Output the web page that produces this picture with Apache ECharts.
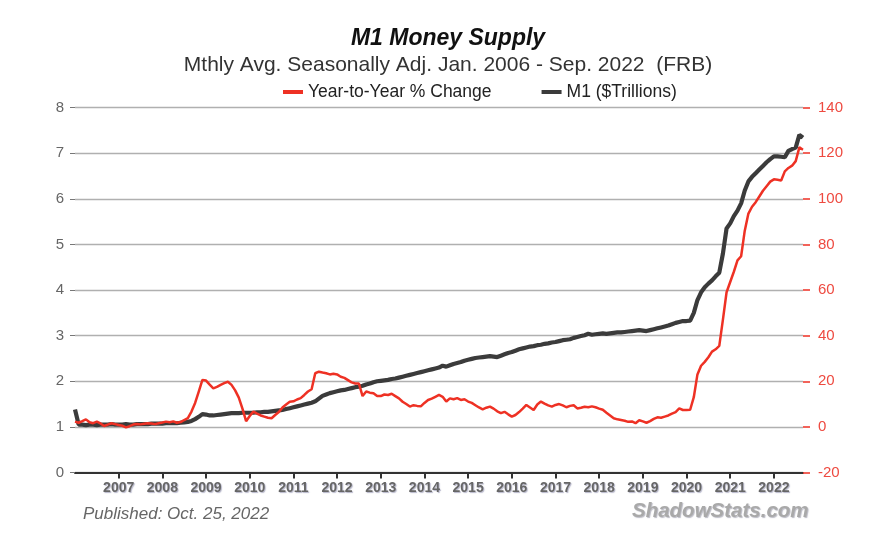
<!DOCTYPE html>
<html>
<head>
<meta charset="utf-8" />
<title>M1 Money Supply</title>
<script src="https://cdn.jsdelivr.net/npm/echarts@6/dist/echarts.min.js"></script>
<style>
  html, body { margin: 0; padding: 0; background: #fff; }
  #chart { width: 896px; height: 534px; }
</style>
</head>
<body>
<div id="chart"></div>
<script type="text/javascript">
// months Jan 2006 .. Sep 2022
var startYear = 2006;
var monthCount = 201;

// M1, $ trillions (left axis), one row per year
var m1 = [
  1.38, 1.05, 1.05, 1.04, 1.05, 1.05, 1.04, 1.05, 1.05, 1.05, 1.06, 1.05,
  1.05, 1.05, 1.06, 1.05, 1.05, 1.06, 1.06, 1.06, 1.06, 1.07, 1.07, 1.07,
  1.07, 1.08, 1.08, 1.08, 1.08, 1.09, 1.10, 1.11, 1.13, 1.17, 1.22, 1.28,
  1.27, 1.25, 1.25, 1.26, 1.27, 1.28, 1.29, 1.30, 1.30, 1.30, 1.31, 1.31,
  1.31, 1.31, 1.32, 1.32, 1.33, 1.33, 1.34, 1.35, 1.36, 1.37, 1.39, 1.41,
  1.43, 1.45, 1.47, 1.49, 1.51, 1.53, 1.56, 1.62, 1.68, 1.71, 1.74, 1.76,
  1.78, 1.80, 1.81, 1.83, 1.85, 1.87, 1.88, 1.90, 1.93, 1.95, 1.98, 2.00,
  2.01, 2.02, 2.03, 2.05, 2.06, 2.08, 2.10, 2.12, 2.14, 2.16, 2.18, 2.20,
  2.22, 2.24, 2.26, 2.28, 2.30, 2.34, 2.32, 2.35, 2.38, 2.40, 2.42, 2.45,
  2.47, 2.49, 2.51, 2.52, 2.53, 2.54, 2.55, 2.54, 2.53, 2.56, 2.59, 2.62,
  2.64, 2.67, 2.70, 2.72, 2.74, 2.76, 2.77, 2.79, 2.80, 2.82, 2.83, 2.85,
  2.86, 2.88, 2.90, 2.91, 2.92, 2.95, 2.97, 2.99, 3.01, 3.04, 3.02, 3.03,
  3.04, 3.05, 3.04, 3.05, 3.06, 3.07, 3.07, 3.08, 3.09, 3.10, 3.11, 3.12,
  3.11, 3.10, 3.12, 3.14, 3.16, 3.18, 3.20, 3.22, 3.25, 3.28, 3.30, 3.32,
  3.32, 3.33, 3.50, 3.78, 3.95, 4.06, 4.14, 4.21, 4.30, 4.38, 4.80, 5.35,
  5.46, 5.62, 5.74, 5.90, 6.18, 6.38, 6.48, 6.56, 6.64, 6.72, 6.80, 6.87,
  6.93, 6.93, 6.92, 6.91, 7.05, 7.09, 7.12, 7.40, 7.34
];

// year-to-year % change (right axis)
var yoy = [
  2.3, 1.8, 2.5, 3.3, 2.0, 1.6, 2.3, 1.5, 0.4, 1.0, 1.6, 1.2,
  0.8, 0.5, -0.2, 0.3, 1.0, 1.3, 1.1, 1.4, 1.6, 1.5, 1.2, 1.6,
  1.9, 2.3, 2.0, 2.4, 1.8, 2.1, 3.0, 3.8, 6.7, 10.5, 15.5, 20.6,
  20.3, 18.5, 16.9, 17.5, 18.4, 19.2, 19.8, 18.4, 16.0, 12.8, 8.0, 2.5,
  4.8, 6.7, 5.8, 5.0, 4.5, 4.0, 3.8, 5.2, 6.5, 8.5, 9.8, 11.0,
  11.2, 12.0, 12.6, 14.0, 15.5, 16.5, 23.5, 24.2, 23.8, 23.5, 23.0, 23.3,
  23.0, 22.0, 21.5, 20.5, 19.5, 19.0, 19.0, 13.5, 15.5, 15.0, 14.7, 13.5,
  13.5, 14.2, 14.0, 14.5, 13.5, 12.5, 11.0, 10.0, 8.9, 9.5, 9.2, 9.0,
  10.5, 11.8, 12.4, 13.2, 14.0, 13.2, 11.1, 12.5, 12.1, 12.6, 11.8, 12.1,
  11.1, 10.5, 9.5, 8.5, 7.7, 8.4, 8.9, 8.0, 6.8, 6.0, 6.6, 5.5,
  4.5, 5.2, 6.5, 8.0, 9.6, 8.5, 7.4, 9.8, 11.1, 10.2, 9.4, 8.9,
  9.6, 10.0, 9.4, 8.6, 9.2, 9.5, 8.1, 8.4, 8.8, 8.6, 9.0, 8.6,
  8.0, 7.5, 6.2, 5.0, 3.8, 3.3, 3.0, 2.7, 2.2, 2.4, 1.6, 2.9,
  2.4, 1.8, 2.5, 3.5, 4.2, 4.0, 4.5, 5.0, 5.8, 6.5, 8.1, 7.4,
  7.4, 7.5, 13.0, 23.0, 26.8, 28.5, 30.5, 33.0, 34.0, 35.5, 47.0, 59.0,
  63.5, 68.0, 73.0, 74.8, 86.0, 93.5, 96.5, 98.5, 101.0, 103.5, 105.5, 107.5,
  108.5, 108.3, 108.0, 112.0, 113.5, 114.5, 116.5, 122.5, 121.5
];

var months = [];
for (var i = 0; i < monthCount; i++) {
  var y = startYear + Math.floor(i / 12);
  var m = (i % 12) + 1;
  months.push(y + '-' + (m < 10 ? '0' + m : m));
}

var leftTicks = { min: 0, max: 8, interval: 1 };
var rightTicks = { min: -20, max: 140, interval: 20 };

var redColor = '#ee3124';
var blackColor = '#3b3b3b';

function isYearStart(index) {
  return index > 0 && index % 12 === 0;
}

var myChart = echarts.init(document.getElementById('chart'));
var option = {
  animation: false,
  backgroundColor: '#fff',
  title: [{
    text: 'M1 Money Supply',
    left: 'center',
    top: 22,
    textStyle: { fontFamily: 'Liberation Sans', fontSize: 23, fontWeight: 'bold', fontStyle: 'italic', color: '#111' }
  }, {
    text: 'Mthly Avg. Seasonally Adj. Jan. 2006 - Sep. 2022  (FRB)',
    left: 'center',
    top: 50,
    textStyle: { fontFamily: 'Liberation Sans', fontSize: 21, fontWeight: 'normal', color: '#333' }
  }, {
    text: 'Published: Oct. 25, 2022',
    left: 78,
    top: 501,
    textStyle: { fontFamily: 'Liberation Sans', fontSize: 17, fontWeight: 'normal', fontStyle: 'italic', color: '#666' }
  }, {
    text: 'ShadowStats.com',
    left: 627,
    top: 496,
    textStyle: { fontFamily: 'Liberation Sans', fontSize: 20.5, fontWeight: 'bold', fontStyle: 'italic', color: '#a9a9a9',
      textShadowColor: 'rgba(120,120,140,0.5)', textShadowBlur: 1, textShadowOffsetX: 1, textShadowOffsetY: 1 }
  }],
  legend: {
    left: 278,
    top: 78,
    itemGap: 50,
    itemWidth: 20,
    itemHeight: 4,
    icon: 'rect',
    textStyle: { fontFamily: 'Liberation Sans', fontSize: 17.5, color: '#222' },
    data: ['Year-to-Year % Change', 'M1 ($Trillions)']
  },
  grid: { left: 75, right: 93, top: 107.5, bottom: 61.5, containLabel: false },
  xAxis: [{
    type: 'category',
    boundaryGap: false,
    data: months,
    axisLine: { show: true, lineStyle: { color: '#333', width: 2 } },
    axisTick: { show: true, length: 6, interval: isYearStart, lineStyle: { color: '#333', width: 2 } },
    axisLabel: {
      interval: isYearStart,
      margin: 9,
      fontFamily: 'Liberation Sans',
      fontSize: 14,
      fontWeight: 'bold',
      color: '#666',
      textShadowColor: 'rgba(110,110,150,0.5)',
      textShadowBlur: 1,
      textShadowOffsetX: 1,
      textShadowOffsetY: 1,
      formatter: function (val) { return val.split('-')[0]; }
    },
    splitLine: { show: false }
  }],
  yAxis: [{
    type: 'value',
    position: 'left',
    min: leftTicks.min,
    max: leftTicks.max,
    interval: leftTicks.interval,
    axisLine: { show: false },
    axisTick: { show: true, length: 5, lineStyle: { color: '#777' } },
    axisLabel: { margin: 11, fontFamily: 'Liberation Sans', fontSize: 15, color: '#666' },
    splitLine: { show: true, lineStyle: { color: '#b0b0b0', width: 1.3 } }
  }, {
    type: 'value',
    position: 'right',
    min: rightTicks.min,
    max: rightTicks.max,
    interval: rightTicks.interval,
    axisLine: { show: false },
    axisTick: { show: true, length: 7, lineStyle: { color: redColor, width: 1.5 } },
    axisLabel: { margin: 15, fontFamily: 'Liberation Sans', fontSize: 15, color: '#ee4a40' },
    splitLine: { show: false }
  }],
  series: [{
    name: 'Year-to-Year % Change',
    type: 'line',
    yAxisIndex: 1,
    data: yoy,
    showSymbol: false,
    color: redColor,
    lineStyle: { color: redColor, width: 2.5 },
    z: 3
  }, {
    name: 'M1 ($Trillions)',
    type: 'line',
    yAxisIndex: 0,
    data: m1,
    showSymbol: false,
    color: blackColor,
    lineStyle: { color: blackColor, width: 4.2 },
    z: 2
  }]
};
myChart.setOption(option);
</script>
</body>
</html>
